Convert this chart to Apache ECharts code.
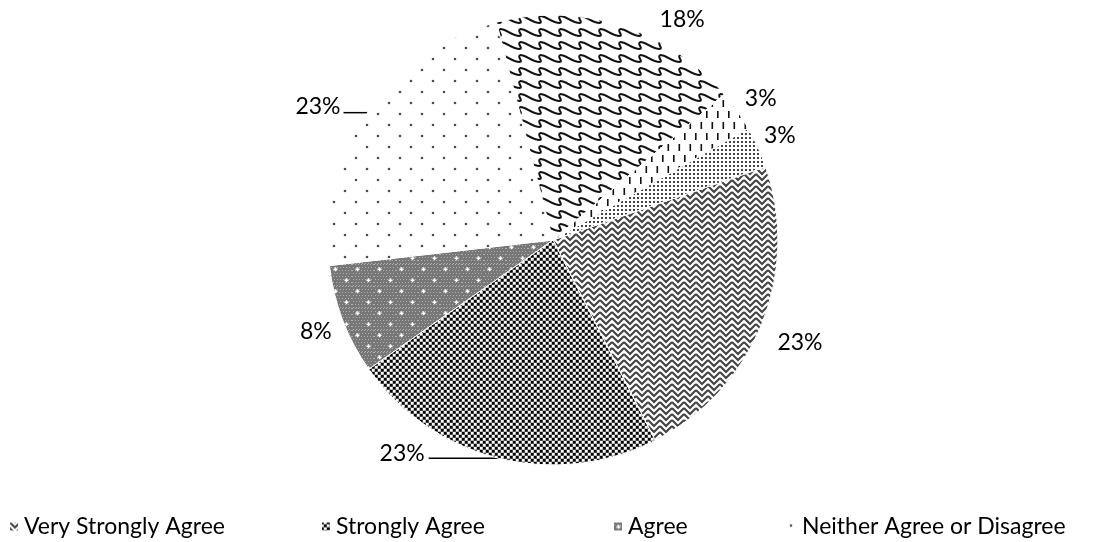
<!DOCTYPE html>
<html>
<head>
<meta charset="utf-8">
<script src="https://cdn.jsdelivr.net/npm/echarts@6/dist/echarts.min.js"></script>
<style>
  html, body { margin: 0; padding: 0; background: #ffffff; }
  #chart { width: 1117px; height: 542px; }
</style>
</head>
<body>
<div id="chart"></div>
<script>
// ---- data ----
const categories = ['Very Strongly Agree', 'Strongly Agree', 'Agree', 'Neither Agree or Disagree', 'Disagree', 'Strongly Disagree', 'Very Strongly Disagree'];
const percentValues = [23, 23, 8, 23, 18, 3, 3];
const legendNames = ['Very Strongly Agree', 'Strongly Agree', 'Agree', 'Neither Agree or Disagree'];

// ---- styles (kept separate from data) ----
const FONT = 'Lato';
const legendLefts = [8, 320, 612, 786];
// label line length / length2 / vertical alignment / nudge / leader line visibility per slice
const labelStyles = [
  { len: 17, len2: 0, va: 'top', dy: 0, dist: 0, line: false },
  { len: 0, len2: 70, va: 'middle', dy: -5, dist: 4, line: true },
  { len: 2, len2: 9, va: 'top', dy: 0, dist: 0, line: false },
  { len: 0, len2: 24, va: 'middle', dy: -6, dist: 3, line: true },
  { len: 6, len2: 37, va: 'middle', dy: 0, dist: 0, line: false },
  { len: 2, len2: 6, va: 'bottom', dy: 0, dist: 0, line: false },
  { len: 1, len2: 5, va: 'bottom', dy: 0, dist: 0, line: false }
];

function makePattern(w, h, draw) {
  const c = document.createElement('canvas');
  c.width = w; c.height = h;
  const g = c.getContext('2d');
  draw(g, w, h);
  return { image: c, repeat: 'repeat' };
}

// weave / herringbone
const pWeave = makePattern(12, 12, (g) => {
  g.fillStyle = '#ffffff'; g.fillRect(0, 0, 12, 12);
  g.strokeStyle = '#444444'; g.lineWidth = 2.1;
  for (let y0 = -12; y0 <= 12; y0 += 6) {
    g.beginPath();
    g.moveTo(0, y0); g.lineTo(6, y0 + 6); g.lineTo(12, y0);
    g.stroke();
  }
});
// checkerboard of black and white squares on gray
const pChecker = makePattern(6, 6, (g) => {
  g.fillStyle = '#7a7a7a'; g.fillRect(0, 0, 6, 6);
  g.fillStyle = '#000000'; g.fillRect(0, 0, 2.5, 2.5); g.fillRect(3, 3, 2.5, 2.5);
  g.fillStyle = '#ffffff'; g.fillRect(3, 0, 2.5, 2.5); g.fillRect(0, 3, 2.5, 2.5);
});
// gray grid with white stars
const pGrid = makePattern(22, 22, (g) => {
  g.fillStyle = '#777777'; g.fillRect(0, 0, 22, 22);
  g.fillStyle = '#b0b0b0';
  for (let y = 0; y < 22; y += 3) for (let x = (y % 2); x < 22; x += 3) g.fillRect(x, y, 1, 1);
  g.fillStyle = '#ffffff';
  [[5, 5], [16, 16]].forEach(([x, y]) => {
    g.fillRect(x - 1.5, y - 0.5, 4, 1.5);
    g.fillRect(x - 0.25, y - 1.75, 1.5, 4);
  });
});
// sparse dots
const pSparse = makePattern(22, 22, (g) => {
  g.fillStyle = '#ffffff'; g.fillRect(0, 0, 22, 22);
  g.fillStyle = '#4d4d4d';
  [[4, 4], [15, 15]].forEach(([x, y]) => { g.beginPath(); g.arc(x, y, 1.3, 0, Math.PI * 2); g.fill(); });
});
// shingle: sawtooth rows of S-curves with hooks
const pShingle = makePattern(20, 13, (g) => {
  g.fillStyle = '#ffffff'; g.fillRect(0, 0, 20, 13);
  g.strokeStyle = '#111111'; g.lineWidth = 2;
  for (let dy = -13; dy <= 13; dy += 13) {
    g.beginPath();
    g.moveTo(0, 3 + dy);
    g.bezierCurveTo(7, 3 + dy, 11, 10 + dy, 20, 10 + dy);
    g.stroke();
    [0, 20].forEach((x) => {
      g.beginPath();
      g.moveTo(x, 10 + dy);
      g.bezierCurveTo(x + 3, 9 + dy, x - 3, 5 + dy, x, 3 + dy);
      g.stroke();
    });
  }
});
// vertical dashes
const pDash = makePattern(11, 22, (g) => {
  g.fillStyle = '#ffffff'; g.fillRect(0, 0, 11, 22);
  g.fillStyle = '#111111';
  g.fillRect(2, 1, 1.6, 7);
  g.fillRect(7.5, 12, 1.6, 7);
});
// dense dots
const pDense = makePattern(4, 4, (g) => {
  g.fillStyle = '#ffffff'; g.fillRect(0, 0, 4, 4);
  g.fillStyle = '#444444'; g.fillRect(1, 1, 2, 2);
});
const fills = [pWeave, pChecker, pGrid, pSparse, pShingle, pDash, pDense];

const seriesData = categories.map((name, i) => ({
  name: name,
  value: percentValues[i],
  itemStyle: { color: fills[i] },
  label: { distanceToLabelLine: labelStyles[i].dist },
  labelLine: { show: labelStyles[i].line, length: labelStyles[i].len, length2: labelStyles[i].len2 }
}));

const chart = echarts.init(document.getElementById('chart'), null, { renderer: 'canvas' });
chart.setOption({
  animation: false,
  backgroundColor: '#ffffff',
  legend: legendNames.map((name, i) => ({
    data: [name],
    left: legendLefts[i],
    top: 515,
    orient: 'horizontal',
    icon: 'rect',
    itemWidth: 10,
    itemHeight: 10,
    selectedMode: false,
    padding: 0,
    textStyle: { fontFamily: FONT, fontSize: 23, color: '#000000' }
  })),
  series: [{
    type: 'pie',
    center: [553, 240],
    radius: 225,
    startAngle: 19,
    clockwise: true,
    avoidLabelOverlap: false,
    itemStyle: { borderColor: '#ffffff', borderWidth: 1 },
    label: {
      show: true,
      position: 'outside',
      formatter: (p) => p.value + '%',
      fontFamily: FONT,
      fontSize: 23,
      color: '#000000',
      distanceToLabelLine: 0
    },
    labelLine: { lineStyle: { color: '#000000', width: 1.5 } },
    labelLayout: (p) => ({ verticalAlign: labelStyles[p.dataIndex].va, dy: labelStyles[p.dataIndex].dy }),
    emphasis: { disabled: true },
    data: seriesData
  }]
});
</script>
</body>
</html>
